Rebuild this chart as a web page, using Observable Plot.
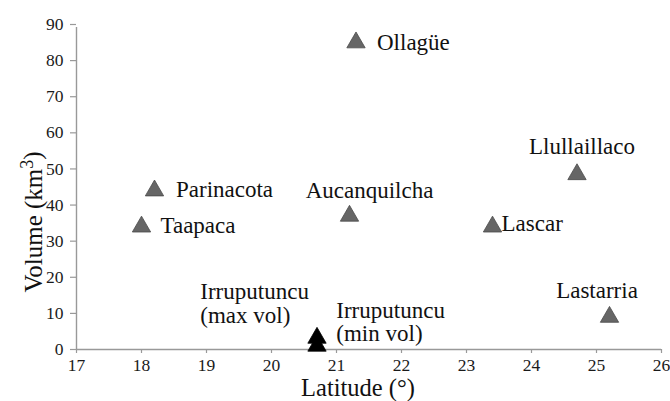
<!DOCTYPE html>
<html><head><meta charset="utf-8">
<script src="https://cdn.jsdelivr.net/npm/d3@7"></script>
<script src="https://cdn.jsdelivr.net/npm/@observablehq/plot@0.6"></script>
<style>
body{margin:0;background:#fff}
#chart svg{display:block}
#chart svg, #chart svg text, #chart svg tspan {font-family: "Liberation Serif", "Times New Roman", serif !important;}
</style>
</head><body><div id="chart"></div>
<script>
// ---- data ----
const volcano = ["Ollagüe","Parinacota","Taapaca","Aucanquilcha","Lascar","Llullaillaco","Lastarria","Irruputuncu (max vol)","Irruputuncu (min vol)"];
const latitude = [21.3, 18.2, 18.0, 21.2, 23.4, 24.7, 25.2, 20.7, 20.7];
const volume = [85, 44, 34, 37, 34, 48.5, 9, 3.2, 1];
const estimate = ["single","single","single","single","single","single","single","max","min"];
const labelText = ["Ollagüe","Parinacota","Taapaca","Aucanquilcha","Lascar","Llullaillaco","Lastarria","Irruputuncu\n(max vol)","Irruputuncu\n(min vol)"];
const xTicks = [17,18,19,20,21,22,23,24,25,26];
const yTicks = [0,10,20,30,40,50,60,70,80,90];
const xDomain = [17, 26];
const yDomain = [0, 90];
const xLabel = "Latitude (°)";
const yLabel = "Volume (km3)";

const data = volcano.map((name, i) => ({name, lat: latitude[i], vol: volume[i], estimate: estimate[i], label: labelText[i]}));

// label placement (offsets from each point, in pixels)
const place = {
  "Ollagüe": {dx: 21, dy: 0, textAnchor: "start"},
  "Parinacota": {dx: 21.5, dy: -1, textAnchor: "start"},
  "Taapaca": {dx: 19, dy: -1.5, textAnchor: "start"},
  "Aucanquilcha": {dx: 20, dy: -25.5, textAnchor: "middle"},
  "Lascar": {dx: 9, dy: -3, textAnchor: "start"},
  "Llullaillaco": {dx: 5, dy: -28, textAnchor: "middle"},
  "Lastarria": {dx: -12.5, dy: -26.3, textAnchor: "middle"},
  "Irruputuncu (max vol)": {dx: -116.7, dy: -55.5, textAnchor: "start", lineAnchor: "top"},
  "Irruputuncu (min vol)": {dx: 19.3, dy: -45, textAnchor: "start", lineAnchor: "top"}
};

const labelMarks = data.map(d => Plot.text([d], {
  x: "lat", y: "vol", text: "label",
  fontSize: 23, lineHeight: 1.03, fill: "#111",
  lineAnchor: "middle",
  ...place[d.name]
}));

const chart = Plot.plot({
  width: 670, height: 401,
  marginLeft: 76, marginRight: 9, marginTop: 24, marginBottom: 52,
  style: {fontFamily: "'Liberation Serif', 'Times New Roman', serif", background: "#fff", overflow: "visible"},
  x: {domain: xDomain},
  y: {domain: yDomain},
  marks: [
    Plot.axisX({ticks: xTicks, tickSize: 4, tickPadding: 5.5, fontSize: 17.5, stroke: "#999", fill: "#1a1a1a", strokeWidth: 1.2, label: null}),
    Plot.axisY({ticks: yTicks, tickSize: 6, tickPadding: 7, fontSize: 17.5, stroke: "#999", fill: "#1a1a1a", strokeWidth: 1.2, label: null}),
    Plot.ruleY([yDomain[0]], {stroke: "#999", strokeWidth: 1.4}),
    Plot.ruleX([xDomain[0]], {y1: yDomain[0], y2: yDomain[1], stroke: "#999", strokeWidth: 1.4, insetBottom: -3}),
    Plot.dot(data.filter(d => d.estimate === "single"), {x: "lat", y: "vol", symbol: "triangle", r: 6.8, fill: "#666", stroke: "#4a4a4a", strokeWidth: 0.8}),
    Plot.dot(data.filter(d => d.estimate !== "single"), {x: "lat", y: "vol", symbol: "triangle", r: 6.8, fill: "#000", stroke: "#000", strokeWidth: 0.8}),
    ...labelMarks,
    Plot.text([xLabel], {frameAnchor: "bottom", textAnchor: "middle", lineAnchor: "middle", dx: -11, dy: 38.5, fontSize: 24.5, fill: "#111"}),
    Plot.text([yLabel], {frameAnchor: "left", textAnchor: "middle", lineAnchor: "middle", rotate: -90, dx: -43, dy: 35, fontSize: 25, fill: "#111"})
  ]
});
document.getElementById("chart").appendChild(chart);

// superscript for km3
d3.select(chart).selectAll("text").filter(function(){ return this.textContent === yLabel; }).each(function(){
  const t = d3.select(this);
  t.text(null);
  t.append("tspan").text("Volume (km");
  t.append("tspan").attr("font-size", 18).attr("dy", "-0.45em").text("3");
  t.append("tspan").attr("dy", "0.3em").text(")");
});
</script>
</body></html>
